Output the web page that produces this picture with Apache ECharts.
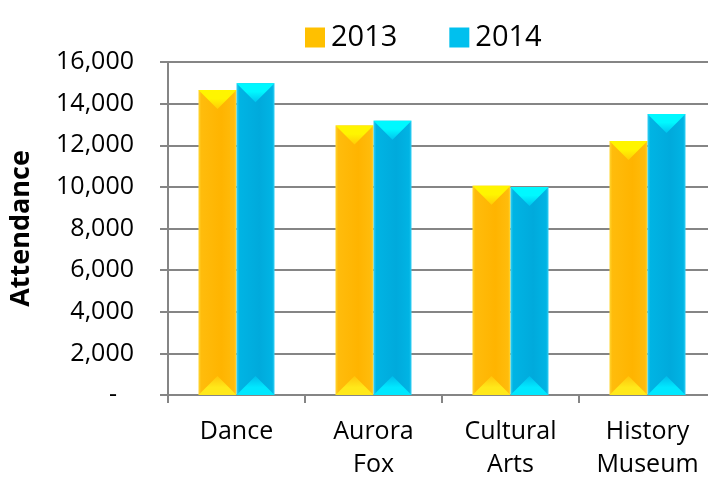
<!DOCTYPE html>
<html>
<head>
<meta charset="utf-8">
<script src="https://cdn.jsdelivr.net/npm/echarts@6/dist/echarts.min.js"></script>
<style>
  html, body { margin: 0; padding: 0; background: #ffffff; }
  #chart { width: 708px; height: 479px; }
</style>
</head>
<body>
<div id="chart"></div>
<script>
// Attendance by venue, 2013 vs 2014
const categories = ['Dance', 'Aurora\nFox', 'Cultural\nArts', 'History\nMuseum'];
const attendance2013 = [14650, 12950, 10050, 12200];
const attendance2014 = [14980, 13180, 10000, 13500];
const seriesNames = ['2013', '2014'];
const yTicks = [0, 2000, 4000, 6000, 8000, 10000, 12000, 14000, 16000];

const FONT = '"Open Sans", "Noto Sans", sans-serif';
const GAP = 0.445; // share of each category band left empty

// Bevelled bar styles for each year
const palettes = [
  { legend: '#FFC000', left: '#FFD633', body: '#FFBC0C', right: '#FFB400',
    topHi: '#FFF500', topLo: '#FFCC08', botHi: '#FFE81A', botLo: '#FFC40A' },
  { legend: '#00C0EE', left: '#33D0F5', body: '#00B4E4', right: '#00AADC',
    topHi: '#00F8FF', topLo: '#00C4EE', botHi: '#00E8FF', botLo: '#00BCEA' }
];

function bevelBar(s) {
  const p = palettes[s];
  return function (params, api) {
    const idx = api.value(0);
    const val = api.value(1);
    const base = api.coord([idx, 0]);
    const top = api.coord([idx, val]);
    const band = api.size([1, 0])[0];
    const w = band * (1 - GAP) / 2;
    const x0 = base[0] - w + s * w;
    const h = base[1] - top[1];
    const d = Math.min(w / 2, h / 2);
    const cx = x0 + w / 2;
    return {
      type: 'group',
      children: [
        {
          type: 'rect',
          shape: { x: x0, y: top[1], width: w, height: h },
          style: {
            fill: new echarts.graphic.LinearGradient(0, 0, 1, 0, [
              { offset: 0, color: p.left },
              { offset: 0.07, color: p.body },
              { offset: 0.6, color: p.right },
              { offset: 0.94, color: p.body },
              { offset: 1, color: p.left }
            ])
          }
        },
        {
          type: 'polygon',
          shape: { points: [[x0, top[1]], [x0 + w, top[1]], [cx, top[1] + d]] },
          style: {
            fill: new echarts.graphic.LinearGradient(0, 0, 0, 1, [
              { offset: 0, color: p.topHi },
              { offset: 0.45, color: p.topHi },
              { offset: 1, color: p.topLo }
            ])
          }
        },
        {
          type: 'polygon',
          shape: { points: [[x0, base[1]], [x0 + w, base[1]], [cx, base[1] - d]] },
          style: {
            fill: new echarts.graphic.LinearGradient(0, 1, 0, 0, [
              { offset: 0, color: p.botHi },
              { offset: 0.4, color: p.botHi },
              { offset: 1, color: p.botLo }
            ])
          }
        }
      ]
    };
  };
}

const chart = echarts.init(document.getElementById('chart'), null, { renderer: 'canvas' });

const axisGray = '#858585';

chart.setOption({
  animation: false,
  backgroundColor: '#ffffff',
  legend: {
    data: seriesNames.map(n => ({ name: n, icon: 'rect' })),
    left: 300,
    top: 18,
    itemWidth: 20,
    itemHeight: 20,
    itemGap: 52,
    textStyle: { fontFamily: FONT, fontSize: 29, color: '#000000', padding: [0, 0, 0, 1] }
  },
  grid: {
    left: 168,
    top: 62,
    width: 548,
    height: 333,
    containLabel: false,
    outerBoundsMode: 'none'
  },
  xAxis: {
    type: 'category',
    data: categories,
    boundaryGap: true,
    axisLine: { show: true, lineStyle: { color: axisGray, width: 2 } },
    axisTick: { show: true, length: 8, lineStyle: { color: axisGray, width: 2 } },
    axisLabel: {
      fontFamily: FONT, fontSize: 25, color: '#000000', lineHeight: 33, margin: 20
    },
    splitLine: { show: false }
  },
  yAxis: {
    type: 'value',
    min: yTicks[0],
    max: yTicks[yTicks.length - 1],
    interval: yTicks[1] - yTicks[0],
    name: 'Attendance',
    nameLocation: 'middle',
    nameRotate: 90,
    nameGap: 133,
    nameTextStyle: { fontFamily: FONT, fontSize: 27, fontWeight: 'bold', color: '#000000' },
    axisLine: { show: true, lineStyle: { color: axisGray, width: 2 } },
    axisTick: { show: true, length: 8, lineStyle: { color: axisGray, width: 2 } },
    axisLabel: {
      fontFamily: FONT, fontSize: 25, color: '#000000', margin: 34,
      formatter: v => v === 0 ? '{z|-}' : v.toLocaleString('en-US'),
      rich: { z: { fontFamily: FONT, fontSize: 25, color: '#000000', padding: [0, 17, 0, 0] } }
    },
    splitLine: { show: true, lineStyle: { color: axisGray, width: 2 } }
  },
  series: [attendance2013, attendance2014].map((vals, s) => ({
    name: seriesNames[s],
    type: 'custom',
    itemStyle: { color: palettes[s].legend },
    encode: { x: 0, y: 1 },
    data: vals.map((v, i) => [i, v]),
    renderItem: bevelBar(s)
  }))
});
</script>
</body>
</html>
